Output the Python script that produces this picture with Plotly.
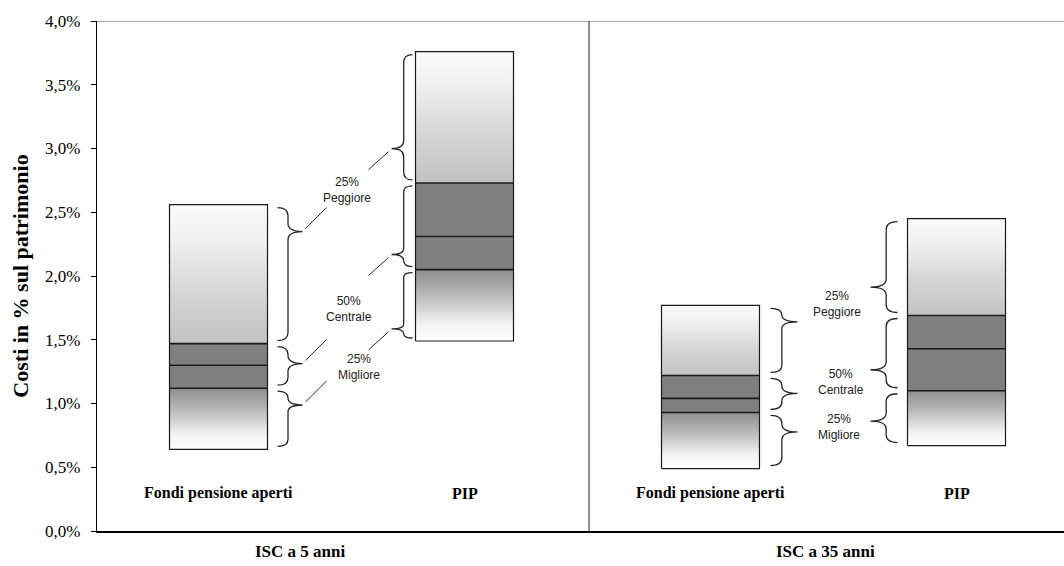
import plotly.graph_objects as go

# ISC (% sul patrimonio): minimo, 1° quartile, mediana, 3° quartile, massimo
groups = ["ISC a 5 anni", "ISC a 35 anni"]
categories = ["Fondi pensione aperti", "PIP", "Fondi pensione aperti", "PIP"]
isc_min = [0.64, 1.49, 0.49, 0.67]
isc_q1 = [1.12, 2.05, 0.93, 1.10]
isc_median = [1.30, 2.31, 1.04, 1.43]
isc_q3 = [1.47, 2.73, 1.22, 1.69]
isc_max = [2.56, 3.76, 1.77, 2.45]
band_labels = ["25%<br>Peggiore", "50%<br>Centrale", "25%<br>Migliore"]
tick_vals = [0.0, 0.5, 1.0, 1.5, 2.0, 2.5, 3.0, 3.5, 4.0]
tick_text = ["0,0%", "0,5%", "1,0%", "1,5%", "2,0%", "2,5%", "3,0%", "3,5%", "4,0%"]

# ---- geometry (pixels -> data units) ----
W, H = 1064, 566
ML, MR, MT, MB = 97, 0, 21, 35
SLOT_PX = 246.0                       # width of one category slot
PX_X = SLOT_PX                        # px per x unit
PX_Y = (H - MT - MB) / 4.0            # px per y unit
X_MAX = (W - ML - MR) / SLOT_PX

def px_x(p):
    return p / PX_X

def px_y(p):
    return p / PX_Y

box_half = px_x(49)
box_x = [i + 0.5 - px_x(1.5) for i in range(len(categories))]
group_label_x = [px_x(203), 2 + px_x(236)]
brace_side = [1, -1, 1, -1]           # +1: braces right of box, -1: left
brace_gap = [10, 3, 11, 10]
brace_w = [25, 21, 27, 27]
# tip position of each brace as fraction from the top of the band
tip_frac = [
    [0.18, 0.44, 0.25],
    [0.75, 0.85, 0.86],
    [0.21, 0.48, 0.33],
    [0.72, 0.74, 0.56],
]
label_dx = [[0, 2, 12], [3, 7, 5]]

INK = "#1a1a1a"
SERIF = "Liberation Serif, Times New Roman, serif"
SANS = "Liberation Sans, Arial, sans-serif"
fig = go.Figure()

def band(x0, x1, y0, y1, fill=None, grad=None):
    tr = go.Scatter(
        x=[x0, x1, x1, x0, x0], y=[y0, y0, y1, y1, y0],
        mode="lines", line=dict(width=0), fill="toself",
        hoverinfo="skip", showlegend=False,
    )
    if grad is not None:
        tr.fillgradient = dict(type="vertical", colorscale=grad)
    else:
        tr.fillcolor = fill
    fig.add_trace(tr)

top_grad = [[0.0, "#c2c2c2"], [0.35, "#d4d4d4"], [0.75, "#f0f0f0"], [1.0, "#fbfbfb"]]
bot_grad = [[0.0, "#ffffff"], [0.25, "#f2f2f2"], [0.65, "#b8b8b8"], [1.0, "#8e8e8e"]]

for i in range(len(categories)):
    x0, x1 = box_x[i] - box_half, box_x[i] + box_half
    band(x0, x1, isc_q3[i], isc_max[i], grad=top_grad)
    band(x0, x1, isc_q1[i], isc_q3[i], fill="#808080")
    band(x0, x1, isc_min[i], isc_q1[i], grad=bot_grad)
    # outline
    fig.add_trace(go.Scatter(
        x=[x0, x1, x1, x0, x0], y=[isc_min[i], isc_min[i], isc_max[i], isc_max[i], isc_min[i]],
        mode="lines", line=dict(color=INK, width=1.2), hoverinfo="skip", showlegend=False))
    for v in (isc_q1[i], isc_median[i], isc_q3[i]):
        fig.add_trace(go.Scatter(
            x=[x0, x1], y=[v, v], mode="lines", line=dict(color=INK, width=1.6),
            hoverinfo="skip", showlegend=False))

shapes = []

def brace(x_end, y_top, y_bot, frac, sign, w):
    span = (y_top - y_bot) * PX_Y
    t = span * frac
    r = min(8.0, t / 2.0, (span - t) / 2.0)
    xm = x_end + sign * px_x(w * 0.42)
    xt = x_end + sign * px_x(w)
    yt = y_top - px_y(t)
    ry = px_y(r)
    path = (
        f"M {x_end},{y_top} Q {xm},{y_top} {xm},{y_top - ry} "
        f"L {xm},{yt + ry} Q {xm},{yt} {xt},{yt} "
        f"Q {xm},{yt} {xm},{yt - ry} "
        f"L {xm},{y_bot + ry} Q {xm},{y_bot} {x_end},{y_bot}"
    )
    shapes.append(dict(type="path", path=path, xref="x", yref="y",
                       line=dict(color="#262626", width=1.3)))
    return xt, yt

tips = []
inset = px_y(3)
for i in range(len(categories)):
    side = brace_side[i]
    edge = box_x[i] + side * box_half
    x_end = edge + side * px_x(brace_gap[i])
    bounds = [(isc_max[i], isc_q3[i]), (isc_q3[i], isc_q1[i]), (isc_q1[i], isc_min[i])]
    row = []
    for k, (yt, yb) in enumerate(bounds):
        row.append(brace(x_end, yt - inset, yb + inset, tip_frac[i][k], side, brace_w[i]))
    tips.append(row)

annotations = []
for g in range(len(groups)):
    a, b = 2 * g, 2 * g + 1
    for k, text in enumerate(band_labels):
        (xa, ya), (xb, yb) = tips[a][k], tips[b][k]
        annotations.append(dict(
            x=(xa + xb) / 2 + px_x(label_dx[g][k]), y=(ya + yb) / 2,
            xref="x", yref="y", text=text, showarrow=False,
            font=dict(family=SANS, size=12, color="#222222"),
            align="center"))
        if g == 0:
            # connectors from the brace tips towards the label
            shapes.append(dict(type="line", xref="x", yref="y",
                               x0=xa + px_x(3), y0=ya + px_y(3),
                               x1=xa + px_x(24), y1=ya + px_y(24),
                               line=dict(color="#262626", width=1)))
            shapes.append(dict(type="line", xref="x", yref="y",
                               x0=xb - px_x(3), y0=yb - px_y(3),
                               x1=xb - px_x(23), y1=yb - px_y(21),
                               line=dict(color="#262626", width=1)))

for i, name in enumerate(categories):
    annotations.append(dict(
        x=box_x[i], y=px_y(531 - 493), xref="x", yref="y", text=f"<b>{name}</b>",
        showarrow=False, font=dict(family=SERIF, size=16, color="black")))

for g, name in enumerate(groups):
    annotations.append(dict(
        x=group_label_x[g], y=-20 / (H - MT - MB), xref="x", yref="paper",
        yanchor="middle", text=f"<b>{name}</b>",
        showarrow=False, font=dict(family=SERIF, size=17, color="black")))

# frame: top border and group separator
shapes.append(dict(type="line", xref="paper", yref="y", x0=0, x1=1, y0=4, y1=4,
                   line=dict(color="#8a8a8a", width=1.5)))
shapes.append(dict(type="line", xref="x", yref="y", x0=2, x1=2, y0=0, y1=4,
                   line=dict(color="#6e6e6e", width=1.5)))

fig.update_layout(
    width=W, height=H,
    margin=dict(l=ML, r=MR, t=MT, b=MB),
    paper_bgcolor="white", plot_bgcolor="white",
    showlegend=False,
    shapes=shapes, annotations=annotations,
    xaxis=dict(range=[0, X_MAX], showgrid=False, zeroline=False, showticklabels=False,
               ticks="", showline=True, linecolor="black", linewidth=1.5, fixedrange=True),
    yaxis=dict(range=[0, 4], tickvals=tick_vals, ticktext=tick_text, showgrid=False,
               zeroline=False, showline=True, linecolor="black", linewidth=1.2,
               ticks="outside", ticklen=5, tickcolor="black", ticklabelstandoff=7,
               tickfont=dict(family=SERIF, size=17, color="black"),
               title=dict(text="<b>Costi in % sul patrimonio</b>", standoff=10,
                          font=dict(family=SERIF, size=22, color="black")),
               fixedrange=True),
)

fig.write_html("out.html")
